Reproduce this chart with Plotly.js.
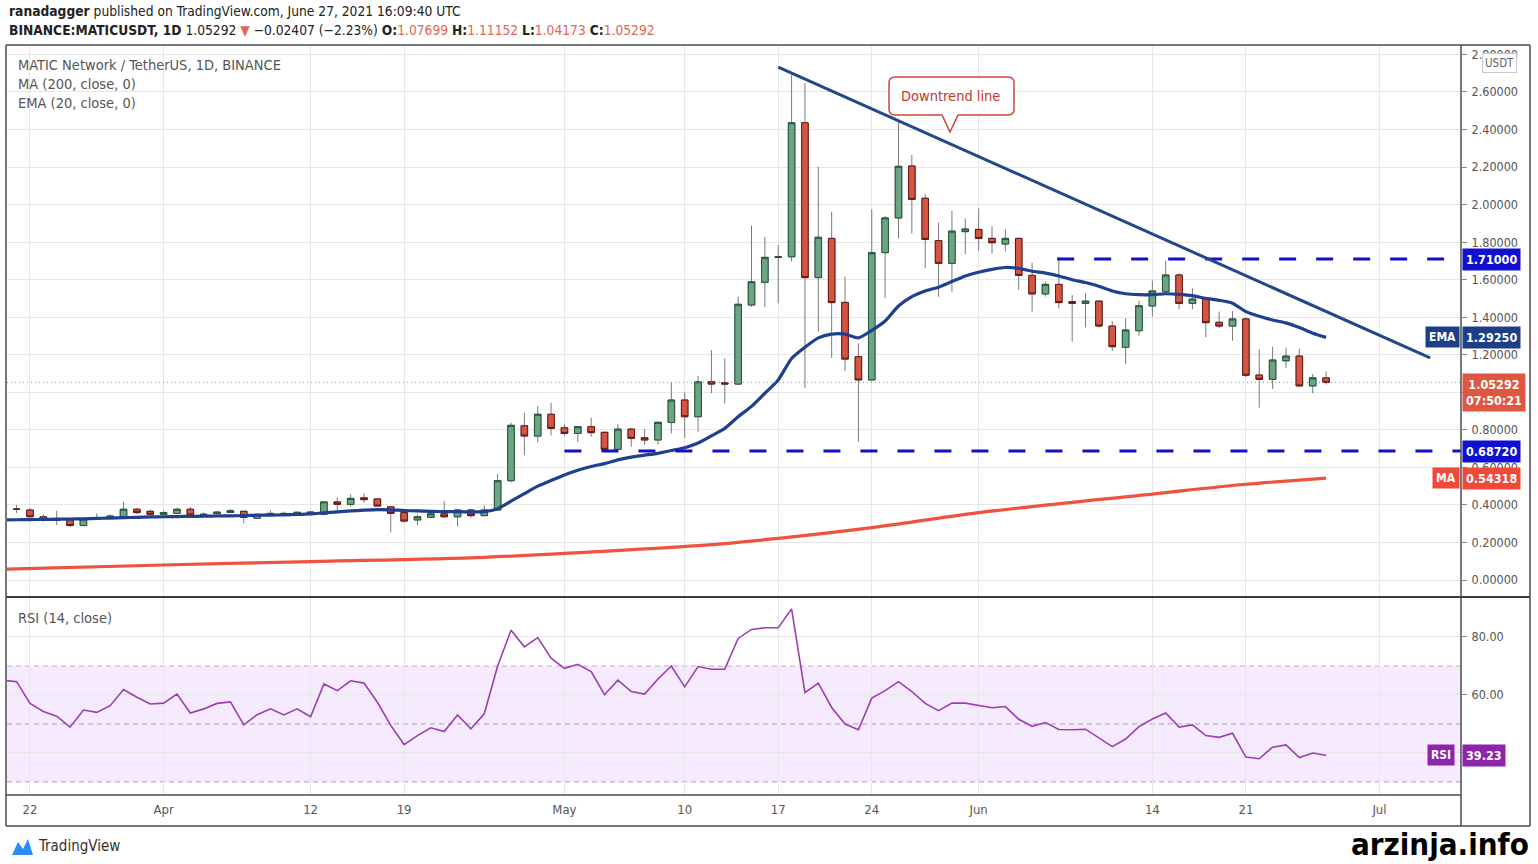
<!DOCTYPE html>
<html>
<head>
<meta charset="utf-8">
<script src="https://cdn.plot.ly/plotly-3.0.1.min.js"></script>
<style>
html,body{margin:0;padding:0;background:#ffffff;}
#chart{width:1538px;height:864px;}
</style>
</head>
<body>
<div id="chart"></div>
<script>
// ---------------- DATA ----------------
const dates = [
'2021-03-20','2021-03-21','2021-03-22','2021-03-23','2021-03-24','2021-03-25','2021-03-26','2021-03-27','2021-03-28','2021-03-29','2021-03-30','2021-03-31',
'2021-04-01','2021-04-02','2021-04-03','2021-04-04','2021-04-05','2021-04-06','2021-04-07','2021-04-08','2021-04-09','2021-04-10',
'2021-04-11','2021-04-12','2021-04-13','2021-04-14','2021-04-15','2021-04-16','2021-04-17','2021-04-18','2021-04-19','2021-04-20',
'2021-04-21','2021-04-22','2021-04-23','2021-04-24','2021-04-25','2021-04-26','2021-04-27','2021-04-28','2021-04-29','2021-04-30',
'2021-05-01','2021-05-02','2021-05-03','2021-05-04','2021-05-05','2021-05-06','2021-05-07','2021-05-08','2021-05-09','2021-05-10',
'2021-05-11','2021-05-12','2021-05-13','2021-05-14','2021-05-15','2021-05-16','2021-05-17','2021-05-18','2021-05-19','2021-05-20',
'2021-05-21','2021-05-22','2021-05-23','2021-05-24','2021-05-25','2021-05-26','2021-05-27','2021-05-28','2021-05-29','2021-05-30','2021-05-31',
'2021-06-01','2021-06-02','2021-06-03','2021-06-04','2021-06-05','2021-06-06','2021-06-07','2021-06-08','2021-06-09','2021-06-10',
'2021-06-11','2021-06-12','2021-06-13','2021-06-14','2021-06-15','2021-06-16','2021-06-17','2021-06-18','2021-06-19','2021-06-20',
'2021-06-21','2021-06-22','2021-06-23','2021-06-24','2021-06-25','2021-06-26','2021-06-27'];

const openP = [
0.405,0.378,0.373,0.337,0.322,0.320,0.290,0.325,0.329,0.337,0.377,0.366,
0.350,0.355,0.377,0.348,0.353,0.360,0.366,0.329,0.346,0.355,
0.346,0.362,0.350,0.416,0.403,0.438,0.432,0.390,0.359,0.320,
0.334,0.353,0.337,0.373,0.343,0.373,0.529,0.822,0.767,0.883,
0.811,0.781,0.817,0.787,0.696,0.804,0.758,0.746,0.840,0.959,
0.870,1.056,1.051,1.044,1.465,1.586,1.718,1.722,2.436,1.611,
1.820,1.479,1.190,1.066,1.744,1.929,2.206,2.034,1.808,1.687,1.856,
1.868,1.820,1.790,1.820,1.623,1.524,1.575,1.483,1.474,1.486,
1.353,1.240,1.328,1.460,1.536,1.625,1.474,1.501,1.373,1.353,
1.391,1.092,1.069,1.168,1.193,1.034,1.07699];

const highP = [
0.410,0.400,0.382,0.350,0.369,0.325,0.330,0.355,0.350,0.417,0.385,0.375,
0.370,0.385,0.390,0.360,0.368,0.378,0.370,0.355,0.370,0.365,
0.365,0.366,0.420,0.440,0.457,0.462,0.436,0.394,0.370,0.350,
0.365,0.421,0.378,0.378,0.398,0.565,0.838,0.891,0.927,0.945,
0.830,0.820,0.865,0.790,0.830,0.810,0.806,0.845,1.051,1.000,
1.087,1.225,1.181,1.510,1.888,1.829,1.785,2.690,2.646,2.202,
1.962,1.616,1.261,1.975,1.940,2.442,2.264,2.055,1.904,1.966,1.927,
1.980,1.886,1.870,1.825,1.690,1.590,1.722,1.518,1.527,1.490,
1.380,1.394,1.488,1.595,1.701,1.634,1.554,1.505,1.430,1.433,
1.400,1.229,1.243,1.238,1.232,1.097,1.11152];

const lowP = [
0.375,0.357,0.335,0.310,0.293,0.285,0.288,0.320,0.325,0.335,0.352,0.345,
0.347,0.352,0.344,0.343,0.350,0.356,0.302,0.325,0.343,0.342,
0.343,0.347,0.348,0.373,0.390,0.410,0.390,0.254,0.305,0.292,
0.330,0.332,0.285,0.333,0.340,0.370,0.520,0.666,0.733,0.770,
0.770,0.735,0.763,0.690,0.695,0.710,0.720,0.720,0.781,0.757,
0.790,0.995,0.941,1.040,1.456,1.453,1.474,1.696,1.021,1.323,
1.184,1.113,0.737,1.060,1.501,1.820,1.847,1.661,1.509,1.536,1.737,
1.754,1.740,1.750,1.545,1.430,1.510,1.447,1.270,1.346,1.345,
1.220,1.149,1.302,1.403,1.530,1.442,1.442,1.293,1.341,1.275,
1.080,0.918,1.018,1.128,1.030,0.995,1.04173];

const closeP = [
0.378,0.377,0.337,0.320,0.318,0.290,0.325,0.327,0.341,0.377,0.359,0.350,
0.359,0.377,0.346,0.350,0.362,0.369,0.334,0.350,0.355,0.346,
0.361,0.350,0.416,0.403,0.435,0.428,0.394,0.355,0.314,0.337,
0.353,0.337,0.373,0.343,0.373,0.529,0.824,0.767,0.883,0.808,
0.781,0.817,0.785,0.696,0.804,0.755,0.746,0.840,0.959,0.870,
1.056,1.044,1.044,1.469,1.589,1.719,1.722,2.436,1.611,1.826,
1.478,1.177,1.066,1.744,1.929,2.204,2.028,1.815,1.687,1.859,1.870,
1.820,1.797,1.820,1.623,1.524,1.575,1.478,1.474,1.486,1.353,
1.243,1.332,1.461,1.540,1.625,1.474,1.497,1.371,1.353,1.391,
1.091,1.069,1.172,1.193,1.034,1.07699,1.05292];

// EMA (20, close)
const ema20 = [
0.320,0.321,0.322,0.323,0.324,0.325,0.326,0.328,0.330,0.332,0.334,0.336,
0.337,0.338,0.339,0.340,0.341,0.342,0.343,0.345,0.346,0.347,
0.349,0.352,0.358,0.363,0.368,0.372,0.375,0.374,0.370,0.368,
0.366,0.364,0.364,0.363,0.364,0.380,0.420,0.460,0.500,0.530,
0.560,0.585,0.605,0.620,0.640,0.655,0.665,0.675,0.690,0.705,
0.730,0.768,0.808,0.870,0.925,0.995,1.066,1.180,1.240,1.290,
1.310,1.310,1.290,1.330,1.380,1.460,1.510,1.540,1.560,1.590,1.620,
1.640,1.655,1.665,1.660,1.645,1.635,1.620,1.600,1.585,1.565,
1.540,1.525,1.520,1.520,1.525,1.522,1.515,1.500,1.490,1.475,
1.430,1.405,1.385,1.370,1.345,1.315,1.2925];

// MA (200, close) sampled along the red curve
const ma200Dates = ['2021-03-20','2021-04-01','2021-04-12','2021-04-25','2021-05-01','2021-05-11','2021-05-17','2021-05-24','2021-06-01','2021-06-14','2021-06-21','2021-06-27'];
const ma200 = [0.057,0.080,0.098,0.121,0.142,0.183,0.222,0.279,0.359,0.458,0.510,0.54318];

// RSI (14, close)
const rsi14 = [
65.1,64.6,57.1,54.3,52.7,48.9,54.8,54.0,56.3,61.9,59.2,56.9,
57.2,60.3,53.8,55.2,57.1,57.6,49.7,53.2,55.2,53.1,
55.2,52.5,63.8,61.5,64.9,64.1,57.5,49.5,42.9,46.0,
48.7,47.4,53.1,48.3,53.5,70.0,82.3,76.6,79.8,72.7,
69.2,70.6,68.1,60.1,65.1,61.2,60.3,65.5,70.0,62.8,
69.8,68.9,68.9,79.5,82.6,83.2,83.2,89.7,60.8,64.1,
55.7,50.0,48.0,58.9,61.5,64.6,61.2,57.1,54.6,57.2,57.2,
56.3,55.6,56.0,51.6,49.2,50.5,48.1,48.0,48.2,45.2,
42.2,44.8,49.1,51.7,53.8,48.9,49.7,46.0,45.4,46.8,
38.6,38.0,42.0,42.8,38.4,40.0,39.23];

const tickDates  = ['2021-03-22','2021-04-01','2021-04-12','2021-04-19','2021-05-01','2021-05-10','2021-05-17','2021-05-24','2021-06-01','2021-06-14','2021-06-21','2021-07-01'];
const tickLabels = ['22','Apr','12','19','May','10','17','24','Jun','14','21','Jul'];
const priceTicks = [0,0.2,0.4,0.6,0.8,1.0,1.2,1.4,1.6,1.8,2.0,2.2,2.4,2.6,2.8];
const priceHidden = [1.0];          // tick covered by the last-price tag in the reference
const rsiTicks = [40,60,80];
const rsiHidden = [40];             // tick covered by the RSI tag in the reference
const rsiGuides = [30,50,70];

const resistanceLevel = 1.71;       const resistanceFrom = '2021-06-06 21:00';
const supportLevel = 0.6872;        const supportFrom = '2021-05-01 00:00';
const trendDates = ['2021-05-17 00:00','2021-07-04 19:00'];
const trendPrices = [2.733,1.183];
const countdownText = '07:50:21';

const headerLine1 = '<b>ranadagger</b> published on TradingView.com, June 27, 2021 16:09:40 UTC';
const symbolText = 'BINANCE:MATICUSDT, 1D';
const changeText = '\u22120.02407 (\u22122.23%)';
const legendLines = ['MATIC Network / TetherUS, 1D, BINANCE','MA (200, close, 0)','EMA (20, close, 0)'];
const calloutText = 'Downtrend line';

// ---------------- LAYOUT HELPERS ----------------
const L = 7, R = 1461, T = 45, B = 795;
const px = x => (x - L) / (R - L);
const py = y => (B - y) / (B - T);
const P = (x, y) => px(x).toFixed(5) + ',' + py(y).toFixed(5);
const FONT = "'Liberation Sans Narrow','Arial Narrow','DejaVu Sans Condensed','Roboto Condensed',Roboto,sans-serif";
const fmt5 = v => v.toFixed(5);
const n = closeP.length;
const lastClose = closeP[n - 1];
const redTxt = '#e2665a';

// ---------------- TRACES ----------------
const bodyHigh = openP.map((o, i) => Math.max(o, closeP[i]));
const bodyLow = openP.map((o, i) => Math.min(o, closeP[i]));

const traces = [
  { type: 'scatter', mode: 'lines', x: ma200Dates, y: ma200, xaxis: 'x', yaxis: 'y',
    line: { color: '#ef5340', width: 3.2, shape: 'spline' }, hoverinfo: 'skip' },
  { type: 'candlestick', x: dates, open: openP, high: highP, low: lowP, close: closeP,
    xaxis: 'x', yaxis: 'y', hoverinfo: 'skip', whiskerwidth: 0,
    increasing: { line: { color: '#7a7a7c', width: 1 }, fillcolor: '#6ba583' },
    decreasing: { line: { color: '#7a7a7c', width: 1 }, fillcolor: '#d75442' } },
  { type: 'candlestick', x: dates, open: openP, high: bodyHigh, low: bodyLow, close: closeP,
    xaxis: 'x', yaxis: 'y', hoverinfo: 'skip', whiskerwidth: 0,
    increasing: { line: { color: '#225437', width: 1 }, fillcolor: '#6ba583' },
    decreasing: { line: { color: '#5b1a13', width: 1 }, fillcolor: '#d75442' } },
  { type: 'scatter', mode: 'lines', x: dates, y: ema20, xaxis: 'x', yaxis: 'y',
    line: { color: '#1f3f8f', width: 3.2, shape: 'spline', smoothing: 0.6 }, hoverinfo: 'skip' },
  { type: 'scatter', mode: 'lines', x: dates, y: rsi14, xaxis: 'x', yaxis: 'y2',
    line: { color: '#9b3fae', width: 1.6 }, hoverinfo: 'skip' }
];

// ---------------- SHAPES ----------------
const frame = '#4d4d4d';
const shapes = [
  { type: 'rect', xref: 'paper', yref: 'y2', x0: 0, x1: 1, y0: rsiGuides[0], y1: rsiGuides[2],
    fillcolor: 'rgba(153,21,255,0.09)', line: { width: 0 }, layer: 'below' },
  ...rsiGuides.map(v => ({ type: 'line', xref: 'paper', yref: 'y2', x0: 0, x1: 1, y0: v, y1: v,
    line: { color: '#c3aacb', width: 1.2, dash: '5px,4px' }, layer: 'below' })),
  { type: 'line', xref: 'paper', yref: 'y', x0: 0, x1: 1, y0: lastClose, y1: lastClose,
    line: { color: '#d7705f', width: 1, dash: '1px,3px' } },
  { type: 'line', xref: 'x', yref: 'y', x0: resistanceFrom, x1: '2021-07-08', y0: resistanceLevel, y1: resistanceLevel,
    line: { color: '#1111c8', width: 3, dash: '17px,20px' } },
  { type: 'line', xref: 'x', yref: 'y', x0: supportFrom, x1: '2021-07-08', y0: supportLevel, y1: supportLevel,
    line: { color: '#1111c8', width: 3, dash: '17px,20px' } },
  { type: 'line', xref: 'x', yref: 'y', x0: trendDates[0], x1: trendDates[1], y0: trendPrices[0], y1: trendPrices[1],
    line: { color: '#24478a', width: 3 } },
  { type: 'path', xref: 'paper', yref: 'paper',
    path: `M${P(895,77)} L${P(1008,77)} Q${P(1014,77)} ${P(1014,83)} L${P(1014,109)} Q${P(1014,115)} ${P(1008,115)} L${P(958,115)} L${P(950,132)} L${P(942,115)} L${P(895,115)} Q${P(889,115)} ${P(889,109)} L${P(889,83)} Q${P(889,77)} ${P(895,77)} Z`,
    fillcolor: '#ffffff', line: { color: '#c9473c', width: 1.5 } },
  { type: 'line', xref: 'paper', yref: 'paper', x0: px(6), x1: px(1530), y0: py(45), y1: py(45), line: { color: frame, width: 1.5 } },
  { type: 'line', xref: 'paper', yref: 'paper', x0: px(6), x1: px(1530), y0: py(826), y1: py(826), line: { color: frame, width: 1.5 } },
  { type: 'line', xref: 'paper', yref: 'paper', x0: px(6), x1: px(6), y0: py(45), y1: py(826), line: { color: frame, width: 1.5 } },
  { type: 'line', xref: 'paper', yref: 'paper', x0: px(1530), x1: px(1530), y0: py(45), y1: py(826), line: { color: frame, width: 1.5 } },
  { type: 'line', xref: 'paper', yref: 'paper', x0: px(1461), x1: px(1461), y0: py(45), y1: py(826), line: { color: frame, width: 1.5 } },
  { type: 'line', xref: 'paper', yref: 'paper', x0: px(6), x1: px(1530), y0: py(597), y1: py(597), line: { color: '#3d3d3d', width: 2.2 } },
  { type: 'line', xref: 'paper', yref: 'paper', x0: px(6), x1: px(1461), y0: py(795), y1: py(795), line: { color: frame, width: 1.5 } },
  { type: 'path', xref: 'paper', yref: 'paper',
    path: `M${P(12,855)} L${P(18,842)} L${P(23,849)} L${P(28,839)} L${P(33,855)} Z`,
    fillcolor: '#2a8ef0', line: { width: 0 } }
];

// ---------------- ANNOTATIONS ----------------
function axisLabel(val, yref, text, bg, opts) {
  return Object.assign({ xref: 'paper', x: px(1462), xanchor: 'left', yref: yref, y: val, yanchor: 'middle',
    text: '<b>' + text + '</b>', showarrow: false, bgcolor: bg, borderpad: 3,
    font: { family: FONT, size: 12.5, color: '#ffffff' } }, opts || {});
}
function sideTag(val, yref, text, bg, rightPx) {
  return { xref: 'paper', x: px(rightPx), xanchor: 'right', yref: yref, y: val, yanchor: 'middle',
    text: '<b>' + text + '</b>', showarrow: false, bgcolor: bg, borderpad: 3,
    font: { family: FONT, size: 12, color: '#ffffff' } };
}
const txt = (x, y, text, size, color, extra) => Object.assign({ xref: 'paper', yref: 'paper', x: px(x), y: py(y),
  xanchor: 'left', yanchor: 'middle', text: text, showarrow: false, font: { family: FONT, size: size, color: color } }, extra || {});

const emaLast = ema20[n - 1];
const maLast = ma200[ma200.length - 1];
const rsiLast = rsi14[n - 1];

const annotations = [
  txt(7, 11, headerLine1, 13.7, '#222'),
  txt(7, 30, '<b>' + symbolText + '</b> ' + fmt5(lastClose) + ' <span style="color:' + redTxt + '">\u25BC</span> ' + changeText +
     ' <b>O:</b><span style="color:' + redTxt + '">' + fmt5(openP[n-1]) + '</span> <b>H:</b><span style="color:' + redTxt + '">' + fmt5(highP[n-1]) +
     '</span> <b>L:</b><span style="color:' + redTxt + '">' + fmt5(lowP[n-1]) + '</span> <b>C:</b><span style="color:' + redTxt + '">' + fmt5(lastClose) + '</span>', 13.7, '#222'),
  txt(16, 65, legendLines[0], 14.5, '#555'),
  txt(16, 84, legendLines[1], 14.5, '#555'),
  txt(16, 103, legendLines[2], 14.5, '#555'),
  txt(16, 618, 'RSI (14, close)', 14.5, '#555'),
  txt(951, 96, calloutText, 14.5, '#c0392b', { xanchor: 'center' }),
  txt(36, 846, 'TradingView', 15, '#333'),
  txt(1531, 844, '<b>arzinja.info</b>', 31, '#000', { xanchor: 'right' }),
  { xref: 'paper', yref: 'paper', x: px(1482), y: py(63), xanchor: 'left', yanchor: 'middle', text: 'USDT', showarrow: false,
    bgcolor: '#ffffff', bordercolor: '#c8c8c8', borderwidth: 1, borderpad: 2, font: { family: FONT, size: 11.5, color: '#666' } },
  axisLabel(resistanceLevel, 'y', fmt5(resistanceLevel), '#1010d0'),
  axisLabel(supportLevel, 'y', fmt5(supportLevel), '#1010d0'),
  axisLabel(emaLast, 'y', fmt5(emaLast), '#1c3f86'),
  sideTag(emaLast, 'y', 'EMA', '#1c3f86', 1460),
  axisLabel(maLast, 'y', fmt5(maLast), '#f0493a'),
  sideTag(maLast, 'y', 'MA', '#f0493a', 1460),
  axisLabel(lastClose, 'y', fmt5(lastClose) + '<br>' + countdownText, '#df5741', { yanchor: 'top', yshift: 9 }),
  axisLabel(rsiLast, 'y2', rsiLast.toFixed(2), '#8e24aa'),
  sideTag(rsiLast, 'y2', 'RSI', '#8e24aa', 1455)
];

// ---------------- LAYOUT ----------------
const tickFont = { family: FONT, size: 12.5, color: '#555' };
const layout = {
  width: 1538, height: 864,
  margin: { l: L, r: 1538 - R, t: T, b: 864 - B, pad: 0 },
  paper_bgcolor: '#ffffff', plot_bgcolor: '#ffffff',
  showlegend: false, hovermode: false, dragmode: false,
  font: { family: FONT, size: 12, color: '#555' },
  boxgap: 0.3,
  xaxis: {
    type: 'date', range: ['2021-03-20 06:43', '2021-07-07 02:24'], anchor: 'y2',
    tickmode: 'array', tickvals: tickDates, ticktext: tickLabels,
    showgrid: true, gridcolor: '#e7e7e7', gridwidth: 1, zeroline: false, showline: false,
    ticks: '', ticklen: 0, ticklabelstandoff: 5, tickfont: { family: FONT, size: 13, color: '#555' },
    rangeslider: { visible: false }, fixedrange: true
  },
  yaxis: {
    domain: [py(596), 1], range: [-0.0852, 2.8503], side: 'right', anchor: 'x',
    tickmode: 'array', tickvals: priceTicks,
    ticktext: priceTicks.map(v => priceHidden.includes(v) ? '' : v.toFixed(5)),
    ticks: 'outside', ticklen: 5, tickcolor: '#8a8a8a', tickwidth: 1, ticklabelstandoff: 2,
    showgrid: true, gridcolor: '#e7e7e7', zeroline: false, showline: false,
    tickfont: tickFont, fixedrange: true
  },
  yaxis2: {
    domain: [0, py(598)], range: [25.5, 93.45], side: 'right', anchor: 'x',
    tickmode: 'array', tickvals: rsiTicks,
    ticktext: rsiTicks.map(v => rsiHidden.includes(v) ? '' : v.toFixed(2)),
    ticks: 'outside', ticklen: 5, tickcolor: '#8a8a8a', tickwidth: 1, ticklabelstandoff: 2,
    showgrid: true, gridcolor: '#e7e7e7', zeroline: false, showline: false,
    tickfont: tickFont, fixedrange: true
  },
  shapes: shapes,
  annotations: annotations
};

Plotly.newPlot('chart', traces, layout, { staticPlot: true, displayModeBar: false });
</script>
</body>
</html>
